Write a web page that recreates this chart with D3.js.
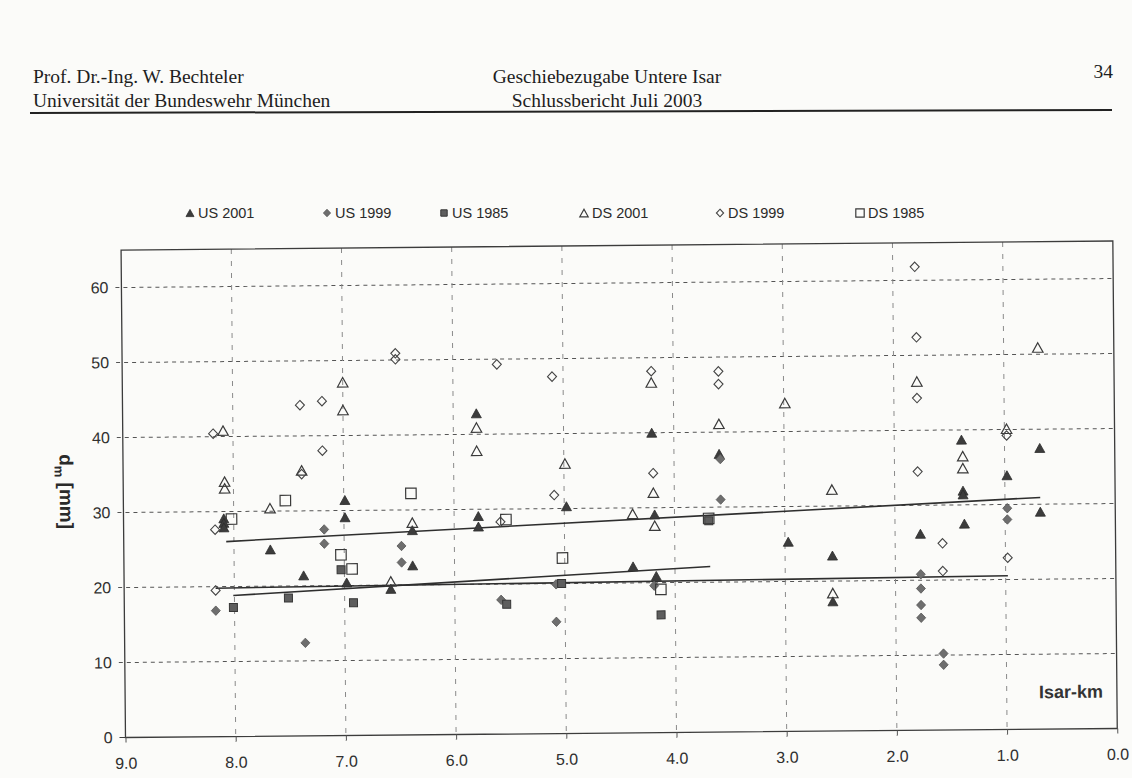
<!DOCTYPE html>
<html><head><meta charset="utf-8">
<script src="https://cdn.jsdelivr.net/npm/d3@7"></script>
<style>
html,body{margin:0;padding:0;background:#fbfbf9;}
svg{display:block;}
</style></head><body>
<svg id="chart" width="1132" height="778"></svg>
<script>
// ---------- data ----------
const xTickValues = [9, 8, 7, 6, 5, 4, 3, 2, 1, 0];
const yTickValues = [0, 10, 20, 30, 40, 50, 60];
const seriesNames = ["US 2001", "US 1999", "US 1985", "DS 2001", "DS 1999", "DS 1985"];

const us2001 = [[8.09,29.1],[8.09,28.5],[8.09,27.9],[7.67,24.9],[7.37,21.4],[6.99,31.4],[6.99,29.1],[6.98,20.4],
  [6.58,19.5],[6.38,27.3],[6.38,22.6],[5.79,42.8],[5.78,29.1],[5.78,27.7],[4.98,30.3],[4.38,22.2],[4.20,40.0],
  [4.18,29.1],[4.17,20.9],[3.59,37.1],[2.97,25.3],[2.57,23.4],[2.57,17.3],[1.77,26.2],[1.39,38.7],[1.38,31.9],
  [1.38,31.4],[1.37,27.5],[0.98,33.9],[0.68,37.5],[0.68,29.0]];
const us1999 = [[8.17,16.8],[7.36,12.4],[7.18,27.5],[7.18,25.6],[6.48,25.2],[6.48,23.0],[5.58,17.9],[5.08,19.9],
  [5.08,14.9],[4.19,19.6],[3.58,36.4],[3.58,31.0],[1.77,20.8],[1.77,18.9],[1.77,16.7],[1.77,15.0],[1.57,10.2],
  [1.57,8.7],[0.98,29.5],[0.98,28.0]];
const us1985 = [[8.01,17.2],[7.51,18.4],[7.03,22.1],[6.92,17.7],[5.53,17.3],[5.03,20.0],[4.13,15.7],[3.69,28.2]];
const ds2001 = [[8.09,40.8],[8.08,34.0],[8.08,33.1],[7.67,30.4],[7.38,35.4],[7.00,47.1],[7.00,43.4],[6.58,20.5],
  [6.38,28.3],[5.79,40.9],[5.79,37.8],[4.99,36.0],[4.38,29.2],[4.20,46.7],[4.19,32.0],[4.18,27.6],[3.59,41.1],
  [2.99,43.8],[2.57,32.2],[2.57,18.4],[1.79,46.5],[1.38,36.5],[1.38,34.9],[0.98,40.1],[0.69,50.9]];
const ds1999 = [[8.18,40.4],[8.17,27.6],[8.17,19.5],[7.39,44.1],[7.38,34.9],[7.19,44.6],[7.19,38.0],[6.52,50.9],
  [6.52,50.1],[5.60,49.3],[5.58,28.3],[5.10,47.6],[5.09,31.8],[4.20,48.2],[4.19,34.6],[3.59,48.1],[3.59,46.4],
  [1.80,61.8],[1.79,52.4],[1.79,44.3],[1.79,34.5],[1.57,24.9],[1.57,21.2],[0.98,39.2],[0.98,22.9]];
const ds1985 = [[8.02,29.0],[7.53,31.4],[7.03,24.1],[6.93,22.2],[6.39,32.2],[5.53,28.6],[5.02,23.4],[4.13,19.1],[3.69,28.5]];

const trendUS2001 = [[8.07,26.0],[0.68,30.9]];
const trendUS1999 = [[8.17,19.8],[0.98,20.5]];
const trendUS1985 = [[8.01,18.8],[3.68,22.1]];

// ---------- layout ----------
const svg = d3.select("#chart");
const ox = 125.5, oy = 737.5, pxPerKm = 110.2, pxPerUnit = 7.5;
const x = d3.scaleLinear().domain([9, 0]).range([ox, ox + 9 * pxPerKm]);
const y = d3.scaleLinear().domain([0, 65]).range([oy, oy - 65 * pxPerUnit]);

// marker shapes
function markerPath(shape, s) {
  const p = d3.path();
  if (shape === "triangle") {
    const h = s * 0.9;
    p.moveTo(0, -h / 2); p.lineTo(s / 2, h / 2); p.lineTo(-s / 2, h / 2); p.closePath();
  } else if (shape === "diamond") {
    const r = s / 2;
    p.moveTo(0, -r * 1.05); p.lineTo(r, 0); p.lineTo(0, r * 1.05); p.lineTo(-r, 0); p.closePath();
  } else {
    p.rect(-s / 2, -s / 2, s, s);
  }
  return p.toString();
}
const styles = {
  "US 2001": {shape: "triangle", size: 10, fill: "#3c3c3c", stroke: "#2c2c2c", sw: 0.8},
  "US 1999": {shape: "diamond", size: 9, fill: "#6e6e6e", stroke: "#555", sw: 0.8},
  "US 1985": {shape: "square", size: 8, fill: "#5e5e5e", stroke: "#363636", sw: 1},
  "DS 2001": {shape: "triangle", size: 10.5, fill: "none", stroke: "#3a3a3a", sw: 1.2},
  "DS 1999": {shape: "diamond", size: 9, fill: "none", stroke: "#444", sw: 1.1},
  "DS 1985": {shape: "square", size: 10.5, fill: "none", stroke: "#3a3a3a", sw: 1.2}
};
const seriesData = [us2001, us1999, us1985, ds2001, ds1999, ds1985];

// ---------- header ----------
const header = svg.append("g").attr("font-family", "'Liberation Serif', 'Times New Roman', serif")
  .attr("fill", "#1e1e1e").attr("font-size", 19.5);
header.append("text").attr("x", 33).attr("y", 83).text("Prof. Dr.-Ing. W. Bechteler");
header.append("text").attr("x", 33).attr("y", 107).text("Universität der Bundeswehr München");
header.append("text").attr("x", 607).attr("y", 83).attr("text-anchor", "middle").text("Geschiebezugabe Untere Isar");
header.append("text").attr("x", 607).attr("y", 107).attr("text-anchor", "middle").text("Schlussbericht Juli 2003");
header.append("text").attr("x", 1113).attr("y", 78).attr("text-anchor", "end").text("34");
svg.append("line").attr("x1", 30).attr("y1", 113).attr("x2", 1112).attr("y2", 110)
  .attr("stroke", "#222").attr("stroke-width", 2);

// ---------- legend ----------
const legendX = [190, 327, 444, 584, 720, 860];
const legend = svg.append("g").attr("font-family", "'Liberation Sans', Arial, sans-serif")
  .attr("font-size", 14.5).attr("fill", "#2a2a2a");
seriesNames.forEach((name, i) => {
  const st = styles[name];
  const k = 0.8;
  legend.append("path").attr("d", markerPath(st.shape, st.size * k))
    .attr("transform", `translate(${legendX[i]},213)`)
    .attr("fill", st.fill).attr("stroke", st.stroke).attr("stroke-width", st.sw);
  legend.append("text").attr("x", legendX[i] + 8).attr("y", 218).text(name);
});

// ---------- chart (slightly tilted like the scan) ----------
const g = svg.append("g").attr("transform", `rotate(-0.52, ${ox}, ${oy})`);

// gridlines
g.append("g").selectAll("line").data(yTickValues.filter(d => d > 0)).join("line")
  .attr("x1", ox - 6).attr("x2", x(0)).attr("y1", d => y(d)).attr("y2", d => y(d))
  .attr("stroke", "#555").attr("stroke-width", 1).attr("stroke-dasharray", "4,4");
g.append("g").selectAll("line").data(xTickValues.filter(d => d > 0 && d < 9)).join("line")
  .attr("x1", d => x(d)).attr("x2", d => x(d)).attr("y1", y(65)).attr("y2", oy + 5)
  .attr("stroke", "#8a8a8a").attr("stroke-width", 1).attr("stroke-dasharray", "5,7");

// frame
g.append("rect").attr("x", ox).attr("y", y(65)).attr("width", x(0) - ox).attr("height", oy - y(65))
  .attr("fill", "none").attr("stroke", "#3c3c3c").attr("stroke-width", 1.3);
g.append("line").attr("x1", ox - 6).attr("x2", ox).attr("y1", oy).attr("y2", oy).attr("stroke", "#3c3c3c");

// axes labels via d3 axes
const yAxis = d3.axisLeft(y).tickValues(yTickValues).tickSize(0).tickPadding(13).tickFormat(d3.format("d"));
const xAxis = d3.axisBottom(x).tickValues(xTickValues).tickSize(5).tickPadding(15).tickFormat(d3.format(".1f"));
const ya = g.append("g").attr("transform", `translate(${ox},0)`).call(yAxis);
const xa = g.append("g").attr("transform", `translate(0,${oy})`).call(xAxis);
[ya, xa].forEach(a => {
  a.select(".domain").remove();
  a.selectAll("line").attr("stroke", "#555");
  a.selectAll("text").attr("font-family", "'Liberation Sans', Arial, sans-serif")
    .attr("font-size", 16).attr("fill", "#303030");
});

// y title
g.append("text").attr("transform", `translate(62,491) rotate(90)`).attr("text-anchor", "middle")
  .attr("font-family", "'Liberation Sans', Arial, sans-serif").attr("font-weight", "bold")
  .attr("font-size", 19).attr("fill", "#2a2a2a")
  .call(t => {
    t.append("tspan").text("d");
    t.append("tspan").attr("font-size", 13).attr("dy", 5).text("m");
    t.append("tspan").attr("dy", -5).text(" [mm]");
  });

// x title
g.append("text").attr("x", x(0) - 14).attr("y", oy - 31).attr("text-anchor", "end")
  .attr("font-family", "'Liberation Sans', Arial, sans-serif").attr("font-weight", "bold")
  .attr("font-size", 18).attr("fill", "#333").text("Isar-km");

// trend lines
const line = d3.line().x(d => x(d[0])).y(d => y(d[1]));
[trendUS2001, trendUS1999, trendUS1985].forEach(tr => {
  g.append("path").attr("d", line(tr)).attr("fill", "none").attr("stroke", "#2e2e2e").attr("stroke-width", 1.6);
});

// markers
seriesNames.forEach((name, i) => {
  const st = styles[name];
  g.append("g").selectAll("path").data(seriesData[i]).join("path")
    .attr("d", markerPath(st.shape, st.size))
    .attr("transform", d => `translate(${x(d[0])},${y(d[1])})`)
    .attr("fill", st.fill).attr("stroke", st.stroke).attr("stroke-width", st.sw);
});
</script>
</body></html>
